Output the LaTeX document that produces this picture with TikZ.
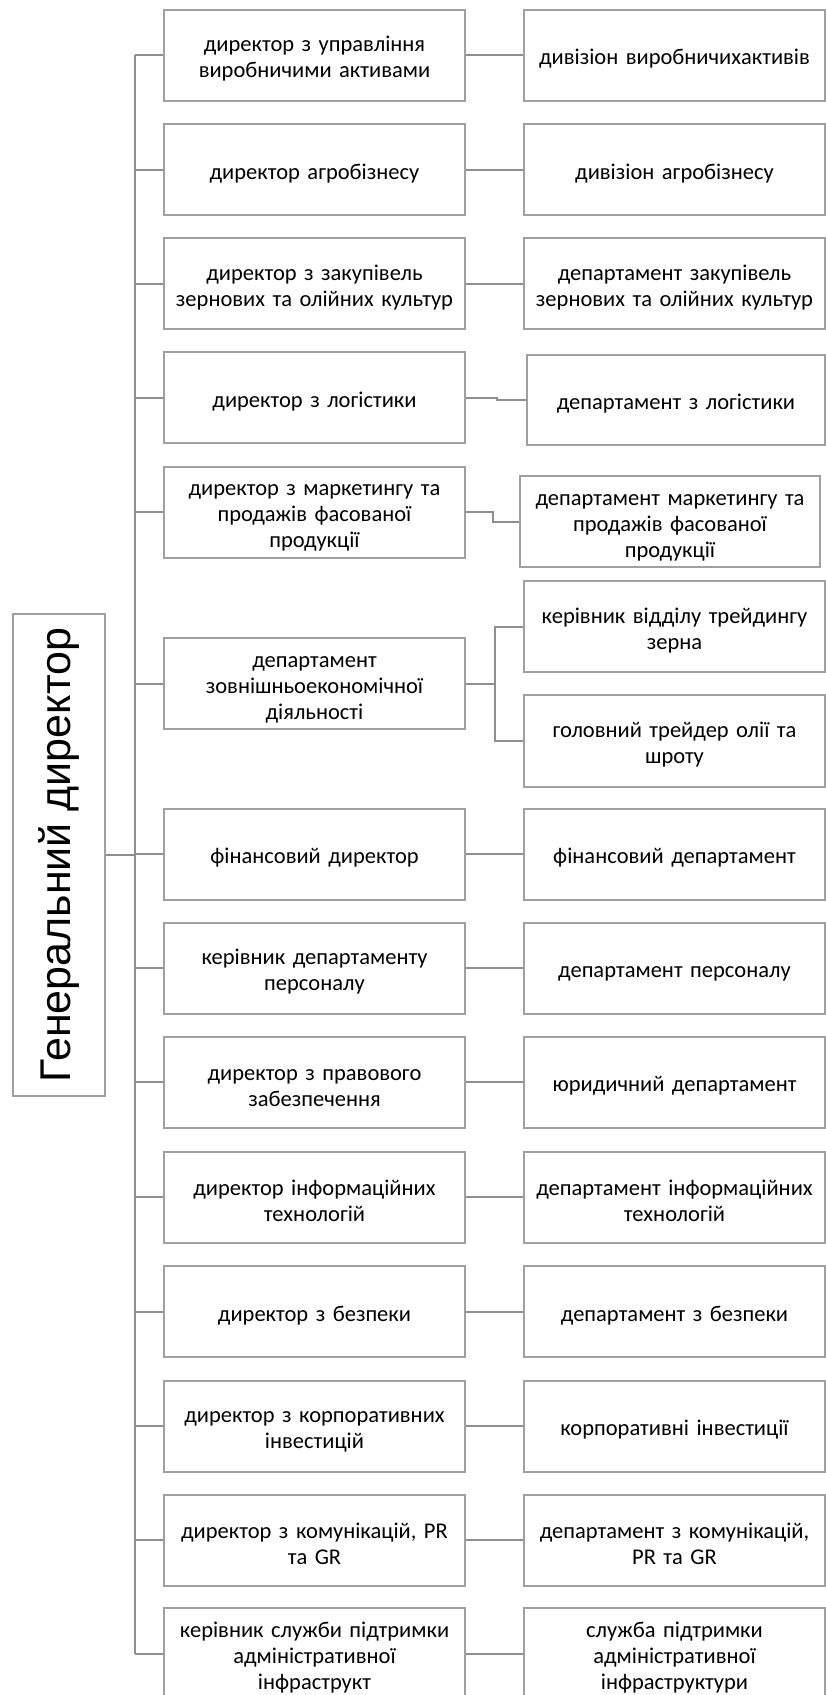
\documentclass[tikz,border=0pt]{standalone}
\usepackage{fontspec}
\setmainfont[WordSpace=0.8]{Carlito}
\newfontfamily\gdfont{Liberation Sans}
\usetikzlibrary{calc}
\definecolor{boxgray}{HTML}{A0A0A0}
\definecolor{linegray}{HTML}{8F8F8F}
\begin{document}
\begin{tikzpicture}[x=1pt,y=-1pt,
  box/.style={draw=boxgray, line width=2pt, minimum width=301pt, minimum height=91pt,
    inner sep=0pt, align=center, text width=297pt, font=\fontsize{22.5}{26}\selectfont,
    execute at begin node={\rule{0pt}{23pt}}},
  conn/.style={draw=linegray, line width=2pt},
  trunk/.style={draw=linegray, line width=2.6pt}]
\useasboundingbox (0,0) rectangle (826,1695);
% general director
\node[draw=boxgray, line width=2pt, minimum width=92pt, minimum height=482pt, inner sep=0pt]
  (gd) at (59,855) {\rotatebox{90}{\gdfont\fontsize{43}{48}\selectfont Генеральний директор}};
% left column
\node[box] (L1) at (314.5,55) {директор з управління\\виробничими активами};
\node[box] (L2) at (314.5,169.5) {директор агробізнесу};
\node[box] (L3) at (314.5,283.5) {директор з закупівель\\зернових та олійних культур};
\node[box] (L4) at (314.5,397.5) {директор з логістики};
\node[box] (L5) at (314.5,512) {директор з маркетингу та\\продажів фасованої\\продукції};
\node[box] (L6) at (314.5,683.5) {департамент\\зовнішньоекономічної\\діяльності};
\node[box] (L7) at (314.5,854) {фінансовий директор};
\node[box] (L8) at (314.5,968) {керівник департаменту\\персоналу};
\node[box] (L9) at (314.5,1082) {директор з правового\\забезпечення};
\node[box] (L10) at (314.5,1197) {директор інформаційних\\технологій};
\node[box] (L11) at (314.5,1311.5) {директор з безпеки};
\node[box] (L12) at (314.5,1426) {директор з корпоративних\\інвестицій};
\node[box] (L13) at (314.5,1540) {директор з комунікацій, PR\\та GR};
\node[box] (L14) at (314.5,1653.5) {керівник служби підтримки\\адміністративної\\інфраструкт};
% right column
\node[box] (R1) at (674.5,55) {дивізіон виробничихактивів};
\node[box] (R2) at (674.5,169.5) {дивізіон агробізнесу};
\node[box] (R3) at (674.5,283.5) {департамент закупівель\\зернових та олійних культур};
\node[box, minimum width=298pt, minimum height=90pt] (R4) at (676,400) {департамент з логістики};
\node[box, minimum width=300pt] (R5) at (670,521.5) {департамент маркетингу та\\продажів фасованої\\продукції};
\node[box] (R6a) at (674.5,626.5) {керівник відділу трейдингу\\зерна};
\node[box, minimum height=92pt] (R6b) at (674.5,741) {головний трейдер олії та\\шроту};
\node[box] (R7) at (674.5,854) {фінансовий департамент};
\node[box] (R8) at (674.5,968) {департамент персоналу};
\node[box] (R9) at (674.5,1082) {юридичний департамент};
\node[box] (R10) at (674.5,1197) {департамент інформаційних\\технологій};
\node[box] (R11) at (674.5,1311.5) {департамент з безпеки};
\node[box] (R12) at (674.5,1426) {корпоративні інвестиції};
\node[box] (R13) at (674.5,1540) {департамент з комунікацій,\\PR та GR};
\node[box] (R14) at (674.5,1653.5) {служба підтримки\\адміністративної\\інфраструктури};
% trunk
\coordinate (tr) at (135,0);
\draw[trunk] (tr |- L1.west) -- (tr |- L14.west);
\draw[trunk] (gd.east) -- (tr |- gd.east);
\foreach \i in {1,...,14} {\draw[conn] (L\i.west) -- (tr |- L\i.west);}
% left to right connectors
\foreach \i in {1,2,3,7,8,9,10,11,12,13,14} {\draw[conn] (L\i.east) -- (R\i.west);}
\draw[conn] (L4.east) -- ++(31,0) |- (R4.west);
\draw[conn] (L5.east) -- ++(27,0) |- (R5.west);
\draw[conn] (L6.east) -- ++(29,0) coordinate (f6);
\draw[conn] (R6a.west) -| (f6) |- (R6b.west);
\end{tikzpicture}
\end{document}
